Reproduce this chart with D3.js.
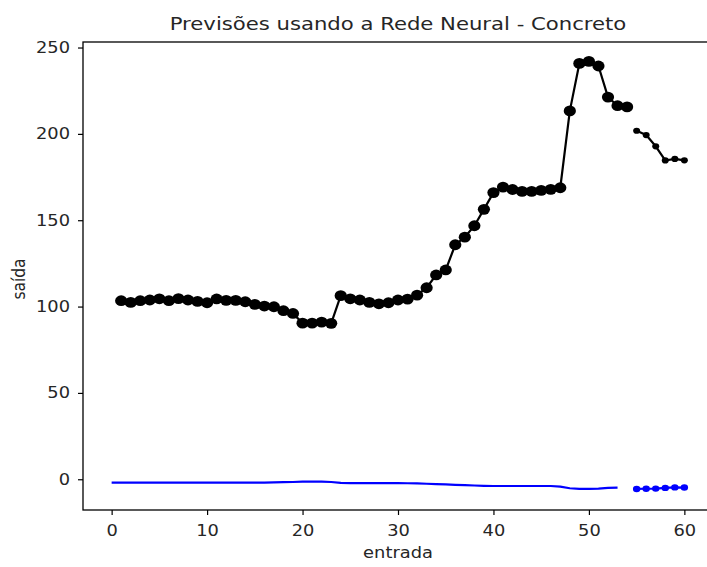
<!DOCTYPE html>
<html>
<head>
<meta charset="utf-8">
<script src="https://cdn.jsdelivr.net/npm/d3@7"></script>
<style>
  html, body { margin: 0; padding: 0; background: #fff; }
  svg { display: block; overflow: hidden; }
  text { font-family: "DejaVu Sans", sans-serif; fill: #262626; }
</style>
</head>
<body>
<script>
// Observed series (black, large markers), x = 1..54
const obsX = d3.range(1, 55);
const obsY = [103.4, 102.4, 103.4, 103.8, 104.5, 103.4, 104.6, 103.8, 103.0, 102.2,
              104.4, 103.6, 103.6, 102.8, 101.3, 100.3, 99.9, 97.6, 96.0, 90.4,
              90.4, 91.0, 90.3, 106.3, 104.5, 103.8, 102.4, 101.6, 102.2, 103.8,
              104.3, 106.6, 110.9, 118.3, 121.2, 135.8, 140.2, 146.8, 156.3, 166.0,
              169.2, 167.8, 166.7, 166.7, 167.3, 167.9, 168.8, 213.3, 240.8, 242.0,
              239.3, 221.3, 216.3, 215.6];

// Forecast continuation (black, small markers), x = 55..60
const fcX = d3.range(55, 61);
const fcY = [201.8, 199.3, 192.8, 184.6, 185.5, 184.7];

// Network output (blue line), x = 0..53
const netX = d3.range(0, 54);
const netY = [-2.0, -2.0, -2.0, -2.0, -2.0, -2.0, -2.0, -2.0, -2.0, -2.0,
              -2.0, -2.0, -2.0, -2.0, -2.0, -1.9, -1.9, -1.8, -1.7, -1.6,
              -1.4, -1.3, -1.4, -1.6, -2.1, -2.2, -2.2, -2.2, -2.2, -2.2,
              -2.2, -2.3, -2.4, -2.6, -2.8, -3.0, -3.2, -3.4, -3.6, -3.8,
              -3.9, -3.9, -3.9, -3.9, -3.9, -3.9, -3.9, -4.3, -5.2, -5.6,
              -5.6, -5.4, -5.0, -4.8];

// Network forecast (blue markers), x = 55..60
const netFcX = d3.range(55, 61);
const netFcY = [-5.6, -5.5, -5.4, -5.0, -4.7, -4.8];

const xTicks = [0, 10, 20, 30, 40, 50, 60];
const yTicks = [0, 50, 100, 150, 200, 250];

const W = 707, H = 567;
const plot = { left: 83, top: 42, right: 713, bottom: 510 };
const SX = 1.19; // horizontal stretch applied to text

const svg = d3.select("body").append("svg").attr("width", W).attr("height", H);

const x = d3.scaleLinear().domain([-3, 63]).range([plot.left, plot.right]);
const y = d3.scaleLinear().domain([-17.8, 253.2]).range([plot.bottom, plot.top]);

const pts = (xs, ys) => xs.map((v, i) => [v, ys[i]]);
const line = d3.line().x(d => x(d[0])).y(d => y(d[1]));

const g = svg.append("g");

function series(data, color, rx, ry, cls) {
  g.append("path").datum(data).attr("d", line)
    .attr("fill", "none").attr("stroke", color).attr("stroke-width", 2.2)
    .attr("stroke-linejoin", "round");
  if (rx > 0) {
    g.selectAll("ellipse." + cls).data(data).join("ellipse").attr("class", cls)
      .attr("cx", d => x(d[0])).attr("cy", d => y(d[1]))
      .attr("rx", rx).attr("ry", ry).attr("fill", color);
  }
}

series(pts(obsX, obsY), "#000", 6.1, 5.4, "obs");
series(pts(fcX, fcY), "#000", 3.5, 3.1, "fc");
series(pts(netX, netY), "#0000ff", 0, 0, "net");
series(pts(netFcX, netFcY), "#0000ff", 3.7, 3.2, "nfc");

// Frame
svg.append("rect")
  .attr("x", plot.left).attr("y", plot.top)
  .attr("width", plot.right - plot.left).attr("height", plot.bottom - plot.top)
  .attr("fill", "none").attr("stroke", "#000").attr("stroke-width", 1.3);

// Axes
const xAxis = svg.append("g").attr("transform", `translate(0,${plot.bottom})`)
  .call(d3.axisBottom(x).tickValues(xTicks).tickSize(5).tickPadding(10).tickFormat(d3.format("d")));
const yAxis = svg.append("g").attr("transform", `translate(${plot.left},0)`)
  .call(d3.axisLeft(y).tickValues(yTicks).tickSize(5).tickPadding(8).tickFormat(d3.format("d")));
[xAxis, yAxis].forEach(a => {
  a.select(".domain").remove();
  a.selectAll(".tick line").attr("stroke", "#000").attr("stroke-width", 1.2);
  a.selectAll(".tick text")
    .style("font-size", "15px").style("font-family", "DejaVu Sans, sans-serif").attr("fill", "#262626")
    .each(function () {
      const t = d3.select(this);
      const tx = +t.attr("x") || 0;
      t.attr("x", tx / SX).attr("transform", `scale(${SX},1)`);
    });
});

// Title and labels
const cx = (plot.left + plot.right) / 2;
svg.append("text").attr("transform", `translate(${cx},29.5) scale(${SX},1)`)
  .attr("text-anchor", "middle").style("font-size", "17.8px")
  .text("Previsões usando a Rede Neural - Concreto");
svg.append("text").attr("transform", `translate(${cx},558) scale(${SX},1)`)
  .attr("text-anchor", "middle").style("font-size", "15px").text("entrada");
svg.append("text").attr("transform", `translate(25,${(plot.top + plot.bottom) / 2 + 3}) scale(${SX},1) rotate(-90)`)
  .attr("text-anchor", "middle").style("font-size", "15.5px").text("saída");
</script>
</body>
</html>
